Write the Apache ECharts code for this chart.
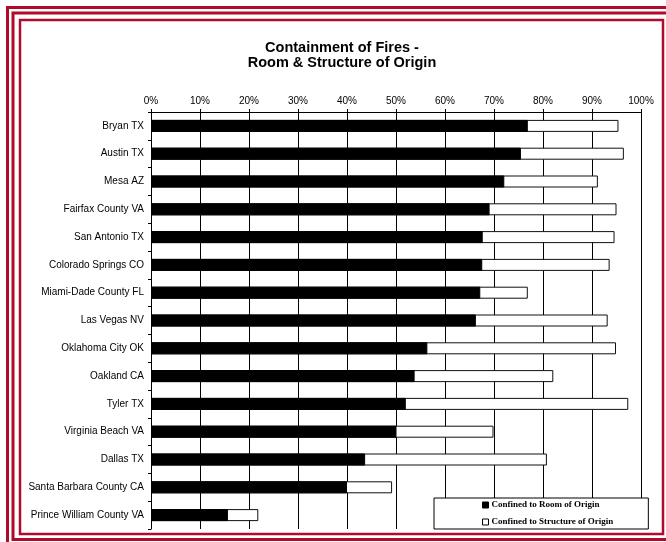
<!DOCTYPE html>
<html>
<head>
<meta charset="utf-8">
<script src="https://cdn.jsdelivr.net/npm/echarts@6/dist/echarts.min.js"></script>
<style>
  html, body { margin: 0; padding: 0; background: #fff; }
  #chart { width: 666px; height: 542px; }
</style>
</head>
<body>
<div id="chart"></div>
<script>
// Fire departments, top to bottom
const cities = [
  'Bryan TX', 'Austin TX', 'Mesa AZ', 'Fairfax County VA', 'San Antonio TX',
  'Colorado Springs CO', 'Miami-Dade County FL', 'Las Vegas NV', 'Oklahoma City OK',
  'Oakland CA', 'Tyler TX', 'Virginia Beach VA', 'Dallas TX',
  'Santa Barbara County CA', 'Prince William County VA'
];
// Percent of fires confined to the room of origin
const roomOfOrigin = [76.9, 75.5, 72.1, 69.1, 67.7, 67.6, 67.2, 66.3, 56.4, 53.8, 52.0, 50.1, 43.7, 40.0, 15.7];
// Percent of fires confined to the structure of origin
const structureOfOrigin = [95.4, 96.5, 91.2, 95.0, 94.6, 93.6, 76.9, 93.2, 94.9, 82.1, 97.4, 69.9, 80.8, 49.2, 21.9];

const titleLines = ['Containment of Fires -', 'Room & Structure of Origin'];
const seriesNames = ['Confined to Room of Origin', 'Confined to Structure of Origin'];

const frameRed = '#b00b2c';
const sans = 'Liberation Sans, Arial, sans-serif';
const chart = echarts.init(document.getElementById('chart'), null, { renderer: 'canvas' });

chart.setOption({
  animation: false,
  backgroundColor: '#ffffff',
  title: {
    text: titleLines.join('\n'),
    left: 342,
    textAlign: 'center',
    top: 41,
    padding: 0,
    textStyle: {
      fontFamily: sans,
      fontSize: 14.5,
      fontWeight: 'bold',
      color: '#000',
      lineHeight: 14.5
    }
  },
  graphic: [
    { type: 'rect', silent: true, z: 100,
      shape: { x: 7.5, y: 7.5, width: 720, height: 560 },
      style: { fill: null, stroke: frameRed, lineWidth: 3 } },
    { type: 'rect', silent: true, z: 100,
      shape: { x: 13, y: 13, width: 720, height: 526.5 },
      style: { fill: null, stroke: frameRed, lineWidth: 3 } },
    { type: 'rect', silent: true, z: 100,
      shape: { x: 20, y: 20, width: 643, height: 514 },
      style: { fill: null, stroke: frameRed, lineWidth: 2.5 } }
  ],
  legend: {
    orient: 'vertical',
    left: 434,
    top: 498,
    padding: [2.5, 35, 2.5, 48],
    itemGap: 8,
    itemWidth: 6,
    itemHeight: 6,
    backgroundColor: '#fff',
    borderColor: '#000',
    borderWidth: 1,
    borderRadius: 0,
    textStyle: {
      fontFamily: 'Liberation Serif, Times New Roman, serif',
      fontSize: 9,
      fontWeight: 'bold',
      color: '#000',
      padding: [0, 0, 0, -2]
    },
    data: [
      { name: seriesNames[0], icon: 'rect', itemStyle: { color: '#000', borderColor: '#000', borderWidth: 1 } },
      { name: seriesNames[1], icon: 'rect', itemStyle: { color: '#fff', borderColor: '#000', borderWidth: 1 } }
    ]
  },
  grid: {
    left: 151,
    right: 25,
    top: 112,
    bottom: 13,
    containLabel: false
  },
  xAxis: {
    type: 'value',
    position: 'top',
    min: 0,
    max: 100,
    interval: 10,
    axisLine: { show: true, lineStyle: { color: '#000', width: 1 } },
    axisTick: { show: true, length: 3, lineStyle: { color: '#000' } },
    axisLabel: {
      formatter: '{value}%',
      fontFamily: sans,
      fontSize: 10,
      color: '#000',
      margin: 6
    },
    splitLine: { show: true, lineStyle: { color: '#000', width: 1 } }
  },
  yAxis: {
    type: 'category',
    data: cities,
    inverse: true,
    axisLine: { show: true, lineStyle: { color: '#000', width: 1 } },
    axisTick: { show: true, length: 3, lineStyle: { color: '#000' } },
    axisLabel: {
      fontFamily: sans,
      fontSize: 10,
      color: '#000',
      margin: 7
    }
  },
  series: [
    {
      name: seriesNames[0],
      type: 'bar',
      data: roomOfOrigin,
      barWidth: 12,
      barGap: '-100%',
      z: 3,
      itemStyle: { color: '#000', borderColor: '#000', borderWidth: 1 }
    },
    {
      name: seriesNames[1],
      type: 'bar',
      data: structureOfOrigin,
      barWidth: 12,
      barGap: '-100%',
      z: 2,
      itemStyle: { color: '#fff', borderColor: '#111', borderWidth: 1 }
    }
  ]
});
</script>
</body>
</html>
